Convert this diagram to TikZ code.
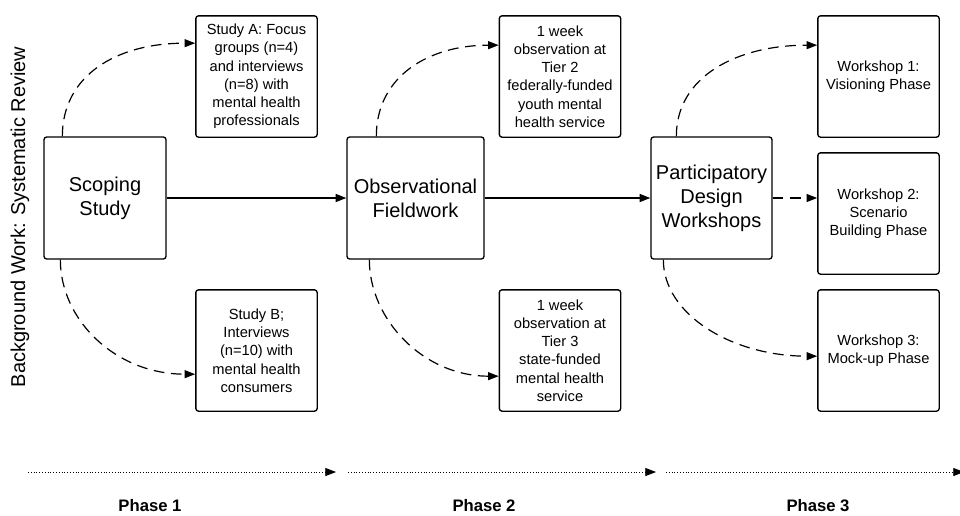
\documentclass[tikz,border=0pt]{standalone}
\usepackage{fontspec}
\setmainfont{Liberation Sans}
\usetikzlibrary{arrows.meta,calc}
\begin{document}
\begin{tikzpicture}[x=0.75pt,y=-0.75pt,
  box/.style={draw=black,line width=1pt,rounded corners=2pt,fill=white,align=center,inner sep=0pt},
  bigbox/.style={box,minimum width=91.5pt,minimum height=91.5pt,font=\fontsize{15}{18}\selectfont},
  smallbox/.style={box,minimum width=91pt,minimum height=91pt,font=\fontsize{11}{13.7}\selectfont},
  solidarrow/.style={line width=1pt,-{Triangle[length=8pt,width=6pt]}},
  dasharrow/.style={line width=0.9pt,dash pattern=on 8pt off 5pt,-{Triangle[length=8pt,width=6pt]}},
  timeline/.style={line width=0.6pt,dash pattern=on 0.5pt off 1.6pt,-{Triangle[length=8pt,width=6pt]}},
  phase/.style={font=\fontsize{12.5}{15}\selectfont\bfseries}
]
\useasboundingbox[fill=white] (0,0) rectangle (960,515);

\node[rotate=90,font=\fontsize{15}{18}\selectfont] (bg) at (20,217) {Background Work: Systematic Review};

\node[bigbox] (scope) at (105,198) {Scoping\\Study};
\node[bigbox,minimum width=102.75pt] (obs) at (415.5,198) {Observational\\Fieldwork};
\node[bigbox,minimum width=90.75pt] (part) at (711.5,198) {Participatory\\Design\\Workshops};

\node[smallbox] (sa) at (256.5,76.5) {Study A: Focus\\groups (n=4)\\and interviews\\(n=8) with\\mental health\\professionals};
\node[smallbox] (sb) at (256.5,350.5) {Study B;\\Interviews\\(n=10) with\\mental health\\consumers};
\node[smallbox] (t2) at (560,76.5) {1 week\\observation at\\Tier 2\\federally-funded\\youth mental\\health service};
\node[smallbox] (t3) at (560,350.5) {1 week\\observation at\\Tier 3\\state-funded\\mental health\\service};
\node[smallbox] (w1) at (878.5,76.5) {Workshop 1:\\Visioning Phase};
\node[smallbox] (w2) at (878.5,213.5) {Workshop 2:\\Scenario\\Building Phase};
\node[smallbox] (w3) at (878.5,350.5) {Workshop 3:\\Mock-up Phase};

\draw[solidarrow] (scope.east) -- (obs.west);
\draw[solidarrow] (obs.east) -- (part.west);
\draw[dasharrow] (part.east) -- (part.east -| w2.west);

\draw[dasharrow] ($(scope.north west)+(19,0)$) .. controls +(0,-60) and +(-80,0) .. ($(sa.north west)+(0,28)$);
\draw[dasharrow] ($(scope.south west)+(17,0)$) .. controls +(0,60) and +(-80,0) .. ($(sb.north west)+(0,85)$);
\draw[dasharrow] ($(obs.north west)+(30,0)$) .. controls +(0,-60) and +(-70,0) .. ($(t2.north west)+(0,30)$);
\draw[dasharrow] ($(obs.south west)+(23,0)$) .. controls +(0,60) and +(-75,0) .. ($(t3.north west)+(0,87)$);
\draw[dasharrow] ($(part.north west)+(26,0)$) .. controls +(0,-60) and +(-80,0) .. ($(w1.north west)+(0,30)$);
\draw[dasharrow] ($(part.south west)+(13,0)$) .. controls +(0,55) and +(-85,0) .. ($(w3.north west)+(0,67)$);

\coordinate (a0) at (28,472);
\coordinate (a1) at (336,472);
\coordinate (b0) at (348,472);
\coordinate (b1) at (656,472);
\coordinate (c0) at (666,472);
\coordinate (c1) at (964,472);
\draw[timeline] (a0) -- (a1);
\draw[timeline] (b0) -- (b1);
\draw[timeline] (c0) -- (c1);

\node[phase] (p1) at (150,506) {Phase 1};
\node[phase] (p2) at (484,506) {Phase 2};
\node[phase] (p3) at (818,506) {Phase 3};
\end{tikzpicture}
\end{document}
